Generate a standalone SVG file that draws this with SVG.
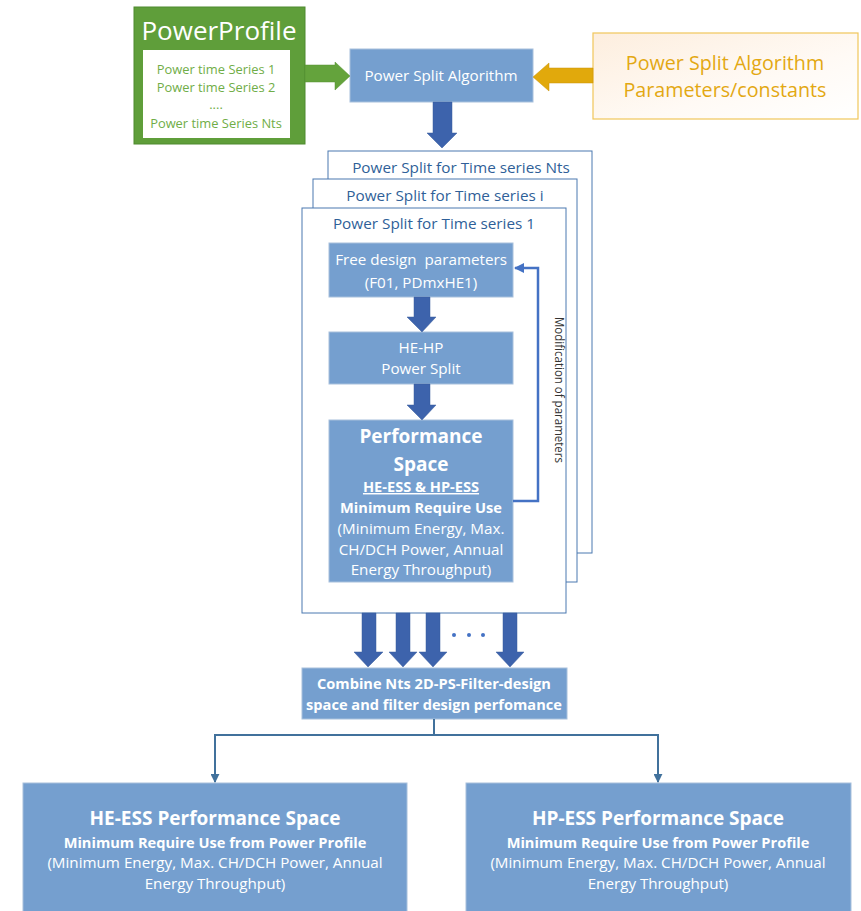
<svg xmlns="http://www.w3.org/2000/svg" width="861" height="911" viewBox="0 0 861 911">
  <defs>
    <linearGradient id="cream" x1="0" y1="0" x2="1" y2="1">
      <stop offset="0" stop-color="#fdeede"/>
      <stop offset="0.6" stop-color="#fffaf5"/>
      <stop offset="1" stop-color="#ffffff"/>
    </linearGradient>
    <marker id="tip" viewBox="0 0 10 10" refX="9" refY="5" markerWidth="4.5" markerHeight="4.5" orient="auto">
      <path d="M0,0 L10,5 L0,10 z" fill="#41719c"/>
    </marker>
    <marker id="tipFb" viewBox="0 0 10 10" refX="9" refY="5" markerWidth="4" markerHeight="4" orient="auto">
      <path d="M0,0 L10,5 L0,10 z" fill="#4472c4"/>
    </marker>
  </defs>
  <style>
    text { font-family: "Open Sans", "Liberation Sans", sans-serif; text-anchor: middle; }
    .box { fill: #759fcf; stroke: #a8c0dc; stroke-width: 1; }
    .wt { fill: #ffffff; font-size: 15.2px; }
    .wb { fill: #ffffff; font-size: 14.6px; font-weight: bold; }
    .frame { fill: #ffffff; stroke: #4a78b0; stroke-width: 1; }
    .ft { fill: #2f5f98; font-size: 15.3px; }
    .fat { fill: #3d63ac; stroke: #3a5e9f; stroke-width: 0.5; }
    .gt { fill: #70ad47; font-size: 12.9px; }
    .link { fill: none; stroke: #41719c; stroke-width: 2; }
  </style>

  <rect width="861" height="911" fill="#ffffff"/>

  <!-- Power profile input -->
  <g id="power-profile">
    <rect x="134" y="7" width="171" height="137" fill="#5f9e3a" stroke="#4f8a2f" stroke-width="1"/>
    <rect x="143" y="50" width="147" height="88" fill="#ffffff"/>
    <text x="219" y="40" fill="#ffffff" style="font-size:26px">PowerProfile</text>
    <text class="gt" x="216" y="74">Power time Series 1</text>
    <text class="gt" x="216" y="92">Power time Series 2</text>
    <text class="gt" x="216" y="109">....</text>
    <text class="gt" x="216" y="128">Power time Series Nts</text>
  </g>

  <!-- Algorithm -->
  <g id="algorithm">
    <rect class="box" x="350" y="49" width="183" height="53"/>
    <text class="wt" x="441" y="81">Power Split Algorithm</text>
  </g>

  <!-- Parameters / constants -->
  <g id="parameters">
    <rect x="593" y="33" width="265" height="86" fill="url(#cream)" stroke="#f1c65a" stroke-width="1.2"/>
    <text x="725" y="70" fill="#e3a812" style="font-size:19.7px">Power Split Algorithm</text>
    <text x="725" y="97" fill="#e3a812" style="font-size:19.7px">Parameters/constants</text>
  </g>

  <!-- Stacked time-series frames -->
  <g id="frame-nts">
    <rect class="frame" x="328" y="151" width="264" height="402"/>
    <text class="ft" x="461" y="173">Power Split for Time series Nts</text>
  </g>
  <g id="frame-i">
    <rect class="frame" x="313" y="179" width="264" height="403"/>
    <text class="ft" x="445" y="201">Power Split for Time series i</text>
  </g>
  <g id="frame-1">
    <rect class="frame" x="302" y="208" width="264" height="405"/>
    <text class="ft" x="434" y="229">Power Split for Time series 1</text>
  </g>

  <g id="free-params">
    <rect class="box" x="329" y="243" width="184" height="54"/>
    <text class="wt" x="421" y="265" xml:space="preserve">Free design  parameters</text>
    <text class="wt" x="421" y="288">(F01, PDmxHE1)</text>
  </g>

  <g id="he-hp-split">
    <rect class="box" x="329" y="332" width="184" height="52"/>
    <text class="wt" x="421" y="353">HE-HP</text>
    <text class="wt" x="421" y="374">Power Split</text>
  </g>

  <g id="performance-space">
    <rect class="box" x="329" y="420" width="184" height="162"/>
    <text class="wb" x="421" y="443" style="font-size:19px">Performance</text>
    <text class="wb" x="421" y="471" style="font-size:19px">Space</text>
    <text class="wb" x="421" y="492" text-decoration="underline">HE-ESS &amp; HP-ESS</text>
    <text class="wb" x="421" y="513">Minimum Require Use</text>
    <text class="wt" x="421" y="534">(Minimum Energy, Max.</text>
    <text class="wt" x="421" y="555">CH/DCH Power, Annual</text>
    <text class="wt" x="421" y="575">Energy Throughput)</text>
  </g>

  <g id="combine">
    <rect class="box" x="302" y="668" width="265" height="51"/>
    <text class="wb" x="434" y="689">Combine Nts 2D-PS-Filter-design</text>
    <text class="wb" x="434" y="710">space and filter design perfomance</text>
  </g>

  <g id="he-ess-space">
    <rect class="box" x="23" y="783" width="384" height="135"/>
    <text class="wb" x="215" y="825" style="font-size:19px">HE-ESS Performance Space</text>
    <text class="wb" x="215" y="848">Minimum Require Use from Power Profile</text>
    <text class="wt" x="215" y="868">(Minimum Energy, Max. CH/DCH Power, Annual</text>
    <text class="wt" x="215" y="889">Energy Throughput)</text>
  </g>

  <g id="hp-ess-space">
    <rect class="box" x="466" y="783" width="385" height="135"/>
    <text class="wb" x="658" y="825" style="font-size:19px">HP-ESS Performance Space</text>
    <text class="wb" x="658" y="848">Minimum Require Use from Power Profile</text>
    <text class="wt" x="658" y="868">(Minimum Energy, Max. CH/DCH Power, Annual</text>
    <text class="wt" x="658" y="889">Energy Throughput)</text>
  </g>

  <!-- Connectors -->
  <g id="connectors">
    <!-- profile to algorithm -->
    <path d="M305,65 H335 V62 L350,76 L335,90 V82 H305 z" fill="#64a33c" stroke="#579232" stroke-width="0.5"/>
    <!-- parameters to algorithm -->
    <path d="M593,68 H549 V63 L533,77 L549,91 V83 H593 z" fill="#e1a90c" stroke="#c8930a" stroke-width="0.5"/>
    <!-- algorithm down to frames -->
    <path class="fat" d="M433,102 H452 V133 H457 L442,148 L427,133 H433 z"/>
    <!-- inner chain -->
    <path class="fat" d="M414,297 H430 V317 H436 L422,332 L407,317 H414 z"/>
    <path class="fat" d="M414,384 H430 V405 H436 L422,420 L407,405 H414 z"/>
    <!-- parameter feedback loop -->
    <path d="M513,501 H538 V268 H515" fill="none" stroke="#4472c4" stroke-width="2.5" marker-end="url(#tipFb)"/>
    <text x="555" y="390" fill="#333333" style="font-size:13px" transform="rotate(90 555 390)" textLength="146" lengthAdjust="spacingAndGlyphs">Modification of parameters</text>
    <!-- frames to combine -->
    <path class="fat" d="M362,613 H376 V652 H383 L368,667 L354,652 H362 z"/>
    <path class="fat" d="M396,613 H410 V652 H417 L403,667 L389,652 H396 z"/>
    <path class="fat" d="M426,613 H440 V652 H447 L433,667 L419,652 H426 z"/>
    <path class="fat" d="M503,613 H517 V652 H524 L510,667 L496,652 H503 z"/>
    <circle cx="454" cy="635" r="2" fill="#4472c4"/>
    <circle cx="469" cy="635" r="2" fill="#4472c4"/>
    <circle cx="483" cy="635" r="2" fill="#4472c4"/>
    <!-- combine to the two spaces -->
    <path class="link" d="M434,719 V735 H215 V782" marker-end="url(#tip)"/>
    <path class="link" d="M434,735 H658 V782" marker-end="url(#tip)"/>
  </g>
</svg>
